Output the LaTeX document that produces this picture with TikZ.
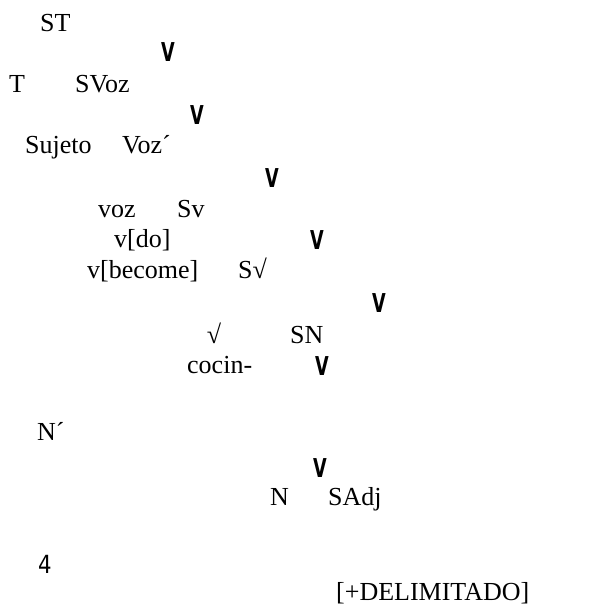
\documentclass[tikz,border=0pt]{standalone}
\usepackage{fontspec}
\setmainfont{Liberation Serif}
\newfontfamily\brksans{DejaVu Sans}
\newcommand{\brkV}{\scalebox{0.68}[1]{\bfseries V}}

\begin{document}
\begin{tikzpicture}[x=1pt, y=-1pt,
	lbl/.style = {anchor=base west, inner sep=0pt, font=\fontsize{26}{30}\selectfont},
	brk/.style = {inner sep=0pt, font=\brksans\fontsize{26}{30}\selectfont}]
	\useasboundingbox (0,0) rectangle (591,606);
	\node[lbl] (ST) at (40,31) {ST};
	\node[brk] (b1) at (168,52) {\brkV};
	\node[lbl] (T) at (9,92) {T};
	\node[lbl] (SVoz) at (75,92) {SVoz};
	\node[brk] (b2) at (197,115) {\brkV};
	\node[lbl] (Suj) at (25,153) {Sujeto};
	\node[lbl] (Vozp) at (122,153) {Voz´};
	\node[brk] (b3) at (272,178) {\brkV};
	\node[lbl] (voz) at (98,217) {voz};
	\node[lbl] (Sv) at (177,217) {Sv};
	\node[lbl] (vdo) at (114,247) {v[do]};
	\node[brk] (b4) at (317,240) {\brkV};
	\node[lbl] (vbec) at (87,278) {v[become]};
	\node[lbl] (Sroot) at (238,278) {S√};
	\node[brk] (b5) at (379,303) {\brkV};
	\node[lbl, anchor=base] (root) at (214,343) {√};
	\node[lbl] (SN) at (290,343) {SN};
	\node[lbl] (cocin) at (187,373) {cocin-};
	\node[brk] (b6) at (322,366) {\brkV};
	\node[lbl] (Np) at (37,440) {N´};
	\node[brk] (b7) at (320,468) {\brkV};
	\node[lbl] (N) at (270,505) {N};
	\node[lbl] (SAdj) at (328,505) {SAdj};
	\node[lbl, font=\brksans\fontsize{25}{28}\selectfont] (four) at (38,573) {\scalebox{0.85}[1]{4}};
	\node[lbl] (delim) at (336,600) {[+DELIMITADO]};
\end{tikzpicture}
\end{document}
